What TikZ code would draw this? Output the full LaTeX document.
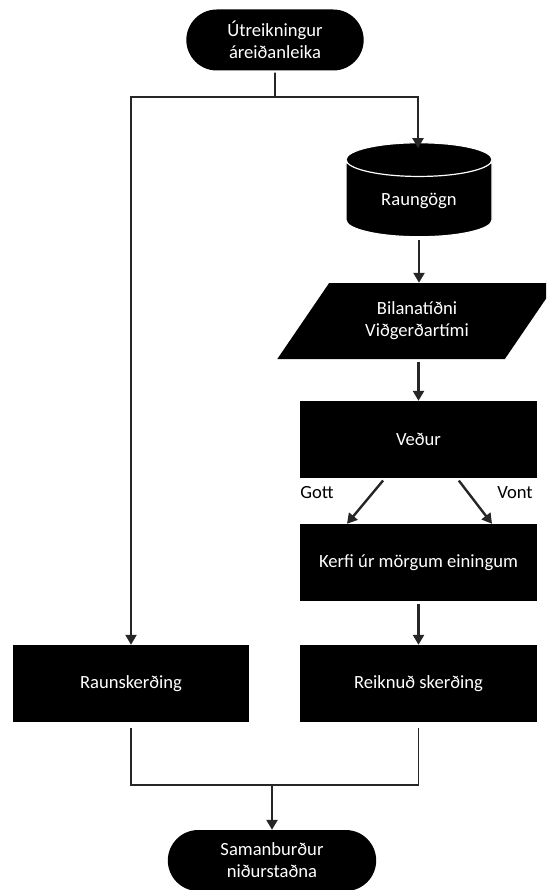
\documentclass[tikz,border=0pt]{standalone}
\usepackage{fontspec}
\setmainfont{Carlito}
\usetikzlibrary{arrows.meta, shapes.geometric, shapes.misc}

\begin{document}
\begin{tikzpicture}[x=1pt, y=-1pt,
    every node/.style={font=\fontsize{18.6}{22}\selectfont},
    box/.style={rectangle, fill=black, text=white, minimum width=237pt, minimum height=77pt},
    terminal/.style={rounded rectangle, fill=black, text=white, align=center, minimum width=184pt, minimum height=61pt},
    store/.style={cylinder, shape border rotate=90, aspect=0.41, fill=black, draw=white, line width=1.2pt, text=white, minimum width=146pt, minimum height=94pt},
    datashape/.style={trapezium, trapezium left angle=54, trapezium right angle=126, trapezium stretches=true, fill=black, text=white, align=center, minimum width=280pt, minimum height=76pt},
    link/.style={draw=black!85, line width=1.6pt},
    elbow/.style={draw=black!85, line width=2.2pt, -{Triangle[length=10pt, width=11pt]}},
    flow/.style={draw=black!85, line width=2.4pt, -{Triangle[length=10pt, width=11pt]}, shorten <=3pt}]

    \path[use as bounding box, clip] (0,0) rectangle (546,890);

    % Start
    \node[terminal] (start) at (275,40) {Útreikningur\\áreiðanleika};

    % Raw data
    \node[store] (rawdata) at (419,201) {Raungögn};

    % Failure rate and repair time
    \node[datashape] (faults) at (417,321) {Bilanatíðni\\Viðgerðartími};

    % Weather
    \node[box] (weather) at (418.5,439.5) {Veður};
    \node (good) at (317,493) {Gott};
    \node (bad) at (515,493) {Vont};

    % Multi-unit system
    \node[box] (system) at (418.5,562.5) {Kerfi úr mörgum einingum};

    % Actual and computed curtailment
    \node[box, minimum width=236pt] (actual) at (131,683.5) {Raunskerðing};
    \node[box] (computed) at (418.5,683.5) {Reiknuð skerðing};

    % Compare
    \node[terminal, minimum width=215pt] (compare) at (272,860.5) {Samanburður\\niðurstaðna};

    % split after start
    \coordinate (split) at (275,97);
    \coordinate (splitL) at (131,97);
    \coordinate (splitR) at (418,97);
    \draw[link, shorten <=2pt] (start) -- (split);
    \draw[link, line cap=rect] (splitL) -- (splitR);
    \draw[elbow, shorten >=-6pt] (splitR) -- (rawdata.north -| splitR);
    \draw[elbow] (splitL) -- (actual.north);

    % right column
    \draw[flow] (rawdata.south) -- (faults.north -| rawdata.south);
    \draw[flow] (faults.south -| weather.north) -- (weather.north);
    \draw[flow] ([xshift=-33.5pt]weather.south) -- ([xshift=-71.5pt]system.north);
    \draw[flow] ([xshift=38.5pt]weather.south) -- ([xshift=73.5pt]system.north);
    \draw[flow] (system.south) -- (computed.north);

    % join before compare
    \coordinate (joinL) at (131,785);
    \coordinate (joinR) at (418.5,785);
    \coordinate (join) at (272,785);
    \draw[link, shorten <=6pt, shorten >=6pt] (actual.south) -- (joinL) -- (joinR) -- (computed.south);
    \draw[flow, shorten <=0pt] (join) -- (compare.north);

\end{tikzpicture}
\end{document}
